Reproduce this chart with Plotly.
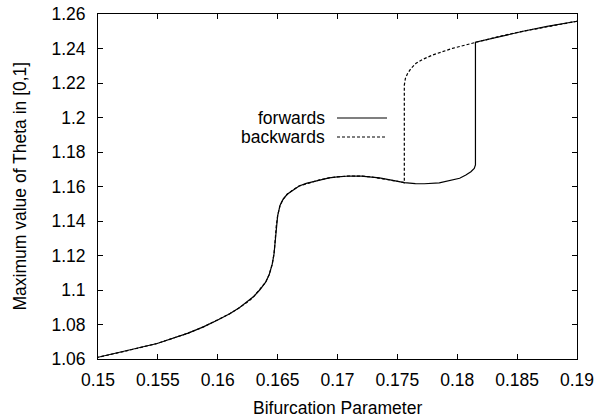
import plotly.graph_objects as go

# Forward sweep (solid)
fwd_x = [0.150, 0.15225, 0.15494, 0.15753, 0.1588, 0.160, 0.161, 0.16183, 0.1627, 0.1630,
         0.1635, 0.1640, 0.1643, 0.16455, 0.1647, 0.1648, 0.16488, 0.1650, 0.1652,
         0.16545, 0.1658, 0.16628, 0.1668, 0.16739, 0.1685, 0.1693, 0.1700, 0.1710,
         0.1720, 0.1728, 0.1735, 0.1745, 0.1751, 0.17558, 0.1765, 0.17725, 0.1785,
         0.1795, 0.1802, 0.18072, 0.18114, 0.18142, 0.18152, 0.18152, 0.1835, 0.1855,
         0.1875, 0.1900]
fwd_y = [1.0610, 1.0645, 1.0690, 1.0750, 1.0786, 1.0826, 1.0862, 1.0898, 1.0942, 1.0962,
         1.1000, 1.1045, 1.1090, 1.1150, 1.1210, 1.1290, 1.1367, 1.1430, 1.1490,
         1.1525, 1.1555, 1.1580, 1.1603, 1.1618, 1.1638, 1.1650, 1.1656, 1.1661,
         1.1660, 1.1656, 1.1650, 1.1637, 1.1629, 1.1622, 1.1617, 1.1616, 1.1621,
         1.1635, 1.1648, 1.1667, 1.1686, 1.1705, 1.1725, 1.2436, 1.2470, 1.2500,
         1.2528, 1.2558]

# Backward sweep (dashed): upper branch down to its fold, drop, then lower branch
bwd_x = [0.1900, 0.1875, 0.1855, 0.1835, 0.18156, 0.1796, 0.17794, 0.17711, 0.17656,
         0.17614, 0.17586, 0.17567, 0.17558, 0.17558, 0.1751, 0.1745, 0.1735, 0.1728,
         0.1720, 0.1710, 0.1700, 0.1693, 0.1685, 0.16739, 0.1668, 0.16628, 0.1658,
         0.16545, 0.1652, 0.1650, 0.16488, 0.1648, 0.1647, 0.16455, 0.1643, 0.1640,
         0.1635, 0.1630, 0.1627, 0.16183, 0.161, 0.160, 0.1588, 0.15753, 0.15494,
         0.15225, 0.150]
bwd_y = [1.2558, 1.2528, 1.2500, 1.2470, 1.2436, 1.2401, 1.2362, 1.2337, 1.2314,
         1.2285, 1.2256, 1.2227, 1.2188, 1.1622, 1.1629, 1.1637, 1.1650, 1.1656,
         1.1660, 1.1661, 1.1656, 1.1650, 1.1638, 1.1618, 1.1603, 1.1580, 1.1555,
         1.1525, 1.1490, 1.1430, 1.1367, 1.1290, 1.1210, 1.1150, 1.1090, 1.1045,
         1.1000, 1.0962, 1.0942, 1.0898, 1.0862, 1.0826, 1.0786, 1.0750, 1.0690,
         1.0645, 1.0610]

x_ticks = [0.15, 0.155, 0.16, 0.165, 0.17, 0.175, 0.18, 0.185, 0.19]
x_tick_text = ["0.15", "0.155", "0.16", "0.165", "0.17", "0.175", "0.18", "0.185", "0.19"]
y_ticks = [1.06, 1.08, 1.10, 1.12, 1.14, 1.16, 1.18, 1.20, 1.22, 1.24, 1.26]
y_tick_text = ["1.06", "1.08", "1.1", "1.12", "1.14", "1.16", "1.18", "1.2", "1.22", "1.24", "1.26"]

series_names = ["forwards", "backwards"]

FONT = "Liberation Sans, Arial, sans-serif"
FS = 17.5
W, H = 595, 419
L, R, T, B = 98, 18, 14, 60
pw, ph = W - L - R, H - T - B


def px(xp):
    return (xp - L) / pw


def py(yp):
    return (H - B - yp) / ph


fig = go.Figure()
fig.add_trace(go.Scatter(x=bwd_x, y=bwd_y, mode="lines", name=series_names[1],
                         line=dict(color="black", width=1.2, dash="3px,2px")))
fig.add_trace(go.Scatter(x=fwd_x, y=fwd_y, mode="lines", name=series_names[0],
                         line=dict(color="black", width=1.2)))

axis_common = dict(showgrid=False, zeroline=False, showline=True, linecolor="black",
                   linewidth=1, mirror="ticks", ticks="inside", ticklen=5,
                   tickcolor="black", tickwidth=1,
                   tickfont=dict(family=FONT, size=FS, color="black"))

fig.update_xaxes(range=[0.15, 0.19], tickvals=x_ticks, ticktext=x_tick_text,
                 ticklabelstandoff=5, **axis_common)
fig.update_yaxes(range=[1.06, 1.26], tickvals=y_ticks, ticktext=y_tick_text,
                 ticklabelstandoff=8, **axis_common)

annotations = [
    dict(text="Bifurcation Parameter", x=0.5, y=py(408), xref="paper", yref="paper",
         showarrow=False, xanchor="center", yanchor="middle",
         font=dict(family=FONT, size=FS, color="black")),
    dict(text="Maximum value of Theta in [0,1]", x=px(19), y=0.5, xref="paper",
         yref="paper", showarrow=False, textangle=-90, xanchor="center",
         yanchor="middle", font=dict(family=FONT, size=FS, color="black")),
    dict(text=series_names[0], x=px(327), y=py(118), xref="paper", yref="paper",
         showarrow=False, xanchor="right", yanchor="middle",
         font=dict(family=FONT, size=FS, color="black")),
    dict(text=series_names[1], x=px(327), y=py(137), xref="paper", yref="paper",
         showarrow=False, xanchor="right", yanchor="middle",
         font=dict(family=FONT, size=FS, color="black")),
]
shapes = [
    dict(type="line", xref="paper", yref="paper", x0=px(337), x1=px(387),
         y0=py(118), y1=py(118), line=dict(color="black", width=1.2)),
    dict(type="line", xref="paper", yref="paper", x0=px(337), x1=px(387),
         y0=py(137), y1=py(137), line=dict(color="black", width=1.2, dash="3px,2px")),
]

fig.update_layout(width=W, height=H, margin=dict(l=L, r=R, t=T, b=B, autoexpand=False),
                  paper_bgcolor="white", plot_bgcolor="white", showlegend=False,
                  annotations=annotations, shapes=shapes)

fig.write_html("out.html")
